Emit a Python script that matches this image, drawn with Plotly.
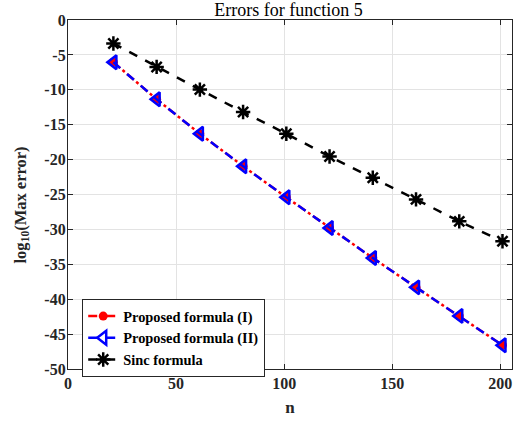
import plotly.graph_objects as go

n = [21, 41, 61, 81, 101, 121, 141, 161, 181, 201]
prop1 = [-6.05, -11.36, -16.3, -20.95, -25.4, -29.8, -34.1, -38.3, -42.4, -46.6]
prop2 = [-6.05, -11.36, -16.3, -20.95, -25.4, -29.8, -34.1, -38.3, -42.4, -46.6]
sinc = [-3.36, -6.72, -9.97, -13.19, -16.3, -19.55, -22.6, -25.7, -28.85, -31.7]

xticks = [0, 50, 100, 150, 200]
yticks = list(range(-50, 1, 5))

FONT = "Liberation Serif, Times New Roman, serif"

fig = go.Figure()
fig.add_trace(go.Scatter(
    x=n, y=prop1, name="<b>Proposed formula (I)</b>", mode="lines+markers",
    line=dict(color="#ff0000", width=2.5, dash="dashdot"),
    marker=dict(symbol="circle", size=9, color="#ff0000")))
fig.add_trace(go.Scatter(
    x=n, y=prop2, name="<b>Proposed formula (II)</b>", mode="lines+markers",
    line=dict(color="#0000ff", width=2.5, dash="dash"),
    marker=dict(symbol="triangle-left-open", size=12, color="#0000ff",
                line=dict(width=2.5, color="#0000ff"))))
fig.add_trace(go.Scatter(
    x=n, y=sinc, name="<b>Sinc formula</b>", mode="lines+markers",
    line=dict(color="#000000", width=2.5, dash="dash"),
    marker=dict(symbol="asterisk-open", size=12, color="#000000",
                line=dict(width=2.5, color="#000000"))))

axis_common = dict(
    showline=True, linecolor="#262626", linewidth=1.2, mirror="ticks",
    ticks="inside", ticklen=5, tickcolor="#262626",
    showgrid=True, gridcolor="#e3e3e3", gridwidth=1, zeroline=False,
    tickfont=dict(family=FONT, size=16, color="#262626"),
    automargin=False,
)

fig.update_layout(
    width=518, height=421,
    margin=dict(l=67.5, r=6.3, t=20, b=52),
    paper_bgcolor="white", plot_bgcolor="white",
    font=dict(family=FONT, color="#262626"),
    title=dict(text="Errors for function 5", x=0.557, xanchor="center",
               y=0.978, yanchor="middle", yref="container", pad=dict(t=0, b=0),
               font=dict(family=FONT, size=18, color="#000000")),
    xaxis=dict(range=[0, 205.4], tickvals=xticks,
               ticktext=[f"<b>{t}</b>" for t in xticks],
               title=dict(text="<b>n</b>", font=dict(family=FONT, size=17, color="#262626"), standoff=9),
               **axis_common),
    yaxis=dict(range=[-50, 0], tickvals=yticks,
               ticktext=[f"<b>{t}</b>" for t in yticks],
               ticklabelstandoff=-2,
               **axis_common),
    legend=dict(x=0.032, y=0.2, xanchor="left", yanchor="top",
                bgcolor="white", bordercolor="#262626", borderwidth=1,
                font=dict(family=FONT, size=14.4, color="#000000"),
                tracegroupgap=0),
    showlegend=True,
)

fig.add_annotation(
    text="<b>log<sub>10</sub>(Max error)</b>", textangle=-90,
    xref="paper", yref="paper", x=-0.107, y=0.47,
    xanchor="center", yanchor="middle", showarrow=False,
    font=dict(family=FONT, size=16.5, color="#262626"))

fig.write_html("out.html", config={"displayModeBar": False},
               post_script="document.body.style.margin='0';document.body.style.padding='0';")
